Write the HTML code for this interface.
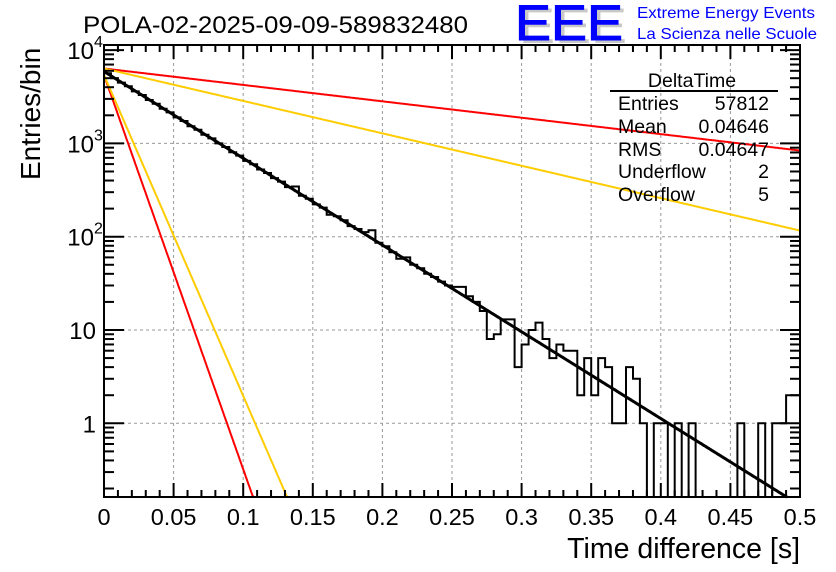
<!DOCTYPE html>
<html><head><meta charset="utf-8">
<style>
html,body{margin:0;padding:0;background:#fff;}
svg{display:block;font-family:"Liberation Sans",Arial,sans-serif;}
</style></head>
<body>
<svg id="c" width="836" height="572" viewBox="0 0 836 572" xmlns="http://www.w3.org/2000/svg">
  <rect x="0" y="0" width="836" height="572" fill="#fff"/>
  <g id="grid"></g>
  <g id="curves"></g>
  <g id="hist"></g>
  <g id="axes"></g>
  <text x="83" y="33" font-size="24.5" fill="#000" textLength="385" lengthAdjust="spacingAndGlyphs">POLA-02-2025-09-09-589832480</text>
  <g>
    <text x="519" y="43" font-size="50" fill="#c8c8c8" textLength="108" lengthAdjust="spacingAndGlyphs">EEE</text>
    <text x="515" y="40" font-size="50" fill="#0000ff" stroke="#0000ff" stroke-width="1" textLength="108" lengthAdjust="spacingAndGlyphs">EEE</text>
    <text x="637" y="18" font-size="16" fill="#0000ff" textLength="178" lengthAdjust="spacingAndGlyphs">Extreme Energy Events</text>
    <text x="637" y="39" font-size="16" fill="#0000ff" textLength="180" lengthAdjust="spacingAndGlyphs">La Scienza nelle Scuole</text>
  </g>
  <g font-size="19.5" fill="#000">
    <text x="692" y="87" text-anchor="middle">DeltaTime</text>
    <line x1="610" y1="91" x2="778" y2="91" stroke="#000" stroke-width="2"/>
    <text x="618" y="110">Entries</text>
    <text x="769" y="110" text-anchor="end">57812</text>
    <text x="618" y="133">Mean</text>
    <text x="769" y="133" text-anchor="end">0.04646</text>
    <text x="618" y="156">RMS</text>
    <text x="769" y="156" text-anchor="end">0.04647</text>
    <text x="618" y="178">Underflow</text>
    <text x="769" y="178" text-anchor="end">2</text>
    <text x="618" y="201">Overflow</text>
    <text x="769" y="201" text-anchor="end">5</text>
  </g>
  <text x="800" y="558" text-anchor="end" font-size="28.5">Time difference [s]</text>
  <text transform="translate(40,180) rotate(-90)" font-size="28">Entries/bin</text>
</svg>
<script>
const binWidth = 0.005;
const counts = [5650,5010,4480,4090,3610,3300,2920,2660,2350,2150,
1900,1740,1530,1400,1240,1130,1000,915,805,740,
650,598,525,482,425,390,340,345,275,255,
222,205,172,166,150,130,121,112,117,86,
79,68,58,60,50,46,40,37,33,30,
29,29,23,20,16,8,9,13,13,4,
7,10,12,8,5,7,6,6,2,5,
2,5,4,1,1,4,3,1,0,1,
1,0,1,0,1,0,0,0,0,0,
0,1,0,0,1,0,1,1,2,2];
const xTicks = [0,0.05,0.1,0.15,0.2,0.25,0.3,0.35,0.4,0.45,0.5];
const xTickLabels = ["0","0.05","0.1","0.15","0.2","0.25","0.3","0.35","0.4","0.45","0.5"];
const yDecades = [1,10,100,1000,10000];
const fitAmp = [5900, 6350, 6350, 5400, 5400];
const fitTau = [0.0467, 0.247, 0.125, 0.01028, 0.01263];
const fitColors = ["#000000","#ff0000","#ffcc00","#ff0000","#ffcc00"];
const fitNames = ["fit-main","fit-upper-slow-red","fit-upper-slow-orange","fit-steep-red","fit-steep-orange"];

const NS="http://www.w3.org/2000/svg";
const L=104,R=800,T=45,B=497;
const X=v=>L+(v-0)/(0.5-0)*(R-L);
const Y=v=>v<=0?B:Math.min(B,423.3-93.3*Math.log10(v));
function mk(tag,attrs,parent){const e=document.createElementNS(NS,tag);for(const k in attrs)e.setAttribute(k,attrs[k]);parent.appendChild(e);return e;}
const grid=document.getElementById('grid'),axes=document.getElementById('axes'),hist=document.getElementById('hist'),curves=document.getElementById('curves');

xTicks.forEach((t,i)=>{
  if(i>0&&i<xTicks.length-1){const g=mk('line',{x1:X(t),x2:X(t),y1:T,y2:B,stroke:'#999','stroke-dasharray':'3,3','stroke-width':1},grid);
  
  }
  const tx=mk('text',{x:X(t),y:525,'text-anchor':'middle','font-size':23.5},axes);
  tx.textContent=xTickLabels[i];
  
  
});
yDecades.forEach(d=>{
  if(d<10000){const g=mk('line',{x1:L,x2:R,y1:Y(d),y2:Y(d),stroke:'#999','stroke-dasharray':'3,3','stroke-width':1},grid);
  
  }
});

fitAmp.forEach((A,k)=>{
  let d='';
  for(let p=0;p<=600;p++){const t=0.5*p/600;const v=A*Math.exp(-t/fitTau[k]);const y=Y(v);d+=(p?'L':'M')+X(t).toFixed(1)+','+y.toFixed(1);if(y>=B)break;}
  const c=mk('path',{d:d,fill:'none',stroke:fitColors[k],'stroke-width':k===0?3:2},curves);
  
  
});

let d='M'+X(0)+','+B;
counts.forEach((c,i)=>{const x0=X(i*binWidth),x1=X((i+1)*binWidth),y=Y(c);d+='L'+x0.toFixed(1)+','+y.toFixed(1)+'L'+x1.toFixed(1)+','+y.toFixed(1);});
d+='L'+X(counts.length*binWidth)+','+B;
const hp=mk('path',{d:d,fill:'none',stroke:'#000','stroke-width':2},hist);



const fr=mk('rect',{x:L,y:T,width:R-L,height:B-T,fill:'none',stroke:'#000','stroke-width':2},axes);


for(let i=0;i<=50;i++){const t=i*0.01;const major=(i%5===0);const len=major?14:7;
  mk('line',{x1:X(t),x2:X(t),y1:B,y2:B-len,stroke:'#000','stroke-width':2},axes);
  mk('line',{x1:X(t),x2:X(t),y1:T,y2:T+len,stroke:'#000','stroke-width':2},axes);}
for(let e=-1;e<=4;e++){for(let m=1;m<=9;m++){const v=m*Math.pow(10,e);const y=Y(v);if(y>B||y<T)continue;const len=m===1?20:10;
  mk('line',{x1:L,x2:L+len,y1:y,y2:y,stroke:'#000','stroke-width':2},axes);
  mk('line',{x1:R,x2:R-len,y1:y,y2:y,stroke:'#000','stroke-width':2},axes);}}
[[1,'1',null],[10,'10',null],[100,'10','2'],[1000,'10','3'],[10000,'10','4']].forEach(([v,b,s])=>{
  const tx=mk('text',{x:s?94:96,y:Y(v)+9,'text-anchor':'end','font-size':24},axes);
  tx.textContent=b;
  
  
  if(s){const st=mk('text',{x:94,y:Y(v)-3,'font-size':16},axes);st.textContent=s;
  
  }
});
</script>
</body></html>
